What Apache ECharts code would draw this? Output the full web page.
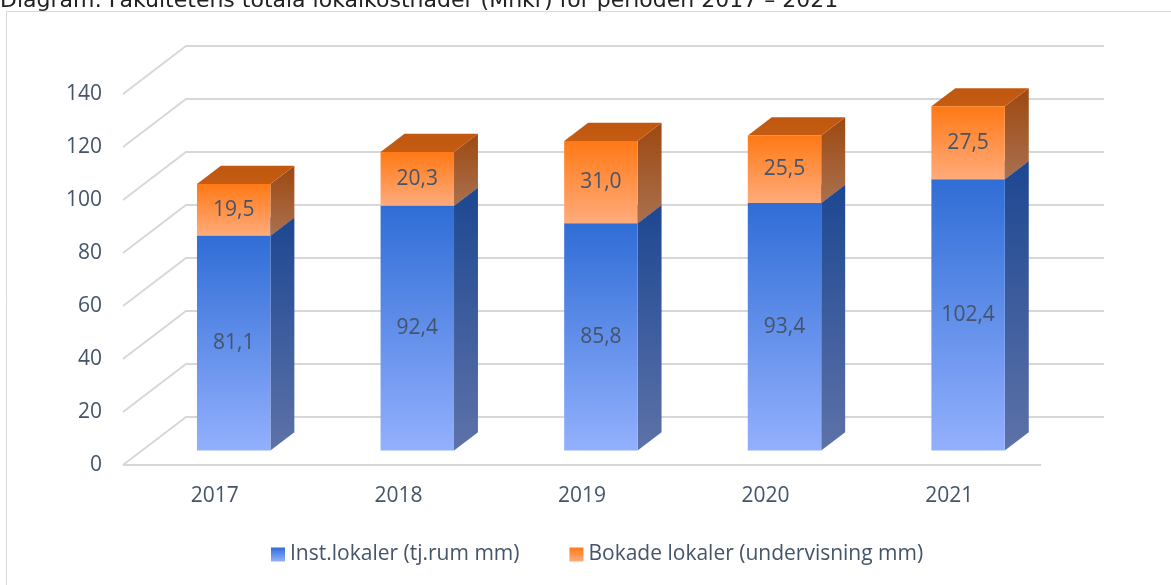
<!DOCTYPE html>
<html>
<head>
<meta charset="utf-8">
<script src="https://cdn.jsdelivr.net/npm/echarts@6/dist/echarts.min.js"></script>
<style>
  html, body { margin: 0; padding: 0; background: #ffffff; }
  #chart { width: 1171px; height: 585px; }
</style>
</head>
<body>
<div id="chart"></div>
<script>
// Fakultetens lokalkostnader (Mnkr), 2017–2021
const years = ['2017', '2018', '2019', '2020', '2021'];
const instLokaler = [81.1, 92.4, 85.8, 93.4, 102.4];
const bokadeLokaler = [19.5, 20.3, 31.0, 25.5, 27.5];
const yTicks = [0, 20, 40, 60, 80, 100, 120, 140];
const seriesNames = ['Inst.lokaler (tj.rum mm)', 'Bokade lokaler (undervisning mm)'];

// oblique projection of the chart box depth (pixels)
const DEPTH_X = 63, DEPTH_Y = -48;
const BAR_FRONT = 0.30;   // where the bar's front face sits inside the depth
const BAR_DEPTH = 0.38;   // how deep a bar is
const BAR_WIDTH = 0.40;   // share of the category band

const labelColor = '#44546a';
const gridColor = '#d6d6db';
const fontFamily = '"Open Sans", "DejaVu Sans", sans-serif';
const FS = 21;

function grad(top, bottom) {
  return { type: 'linear', x: 0, y: 0, x2: 0, y2: 1,
    colorStops: [{ offset: 0, color: top }, { offset: 1, color: bottom }] };
}

const palette = [
  { front: grad('#2f6dd6', '#93b0fd'), side: grad('#1d4792', '#5d72a8'), top: grad('#2a5fc0', '#3a70cf'), legend: grad('#2f6dd6', '#93b0fd') },
  { front: grad('#ff7915', '#ffab7c'), side: grad('#9e4810', '#a9714f'), top: grad('#c05710', '#c55c12'), legend: grad('#ff7915', '#ffab7c') }
];

function fmt(v) { return v.toFixed(1).replace('.', ','); }

// stacked data rows: [categoryIndex, base, value]
function stackRows(values, bases) {
  return values.map((v, i) => [i, bases ? bases[i] : 0, v]);
}
const blueRows = stackRows(instLokaler);
const orangeRows = stackRows(bokadeLokaler, instLokaler);

function gridRender(params, api) {
  const cs = params.coordSys;
  const v = api.value(1);
  const y = api.coord([0, v])[1];
  const x0 = cs.x, x1 = cs.x + cs.width;
  const style = { stroke: gridColor, lineWidth: 1.8, fill: null };
  const children = [{
    type: 'polyline',
    shape: { points: [[x0, y], [x0 + DEPTH_X, y + DEPTH_Y], [x1 + DEPTH_X, y + DEPTH_Y]] },
    style: style, silent: true
  }];
  if (v === 0) {
    children.push({ type: 'line', shape: { x1: x0, y1: y, x2: x1, y2: y }, style: style, silent: true });
  }
  return { type: 'group', children: children };
}

function barRender(colors) {
  return function (params, api) {
    const idx = api.value(0), base = api.value(1), val = api.value(2);
    const band = api.size([1, 0])[0];
    const cx = api.coord([idx, 0])[0];
    const w = band * BAR_WIDTH;
    const fx = DEPTH_X * BAR_FRONT, fy = DEPTH_Y * BAR_FRONT;
    const dx = DEPTH_X * BAR_DEPTH, dy = DEPTH_Y * BAR_DEPTH;
    const yb = api.coord([idx, base])[1] + fy;
    const yt = api.coord([idx, base + val])[1] + fy;
    const xl = cx - w / 2 + fx, xr = cx + w / 2 + fx;
    return {
      type: 'group',
      children: [
        { type: 'polygon', shape: { points: [[xr, yt], [xr + dx, yt + dy], [xr + dx, yb + dy], [xr, yb]] }, style: { fill: colors.side } },
        { type: 'polygon', shape: { points: [[xl, yt], [xl + dx, yt + dy], [xr + dx, yt + dy], [xr, yt]] }, style: { fill: colors.top } },
        { type: 'rect', shape: { x: xl, y: yt, width: w, height: yb - yt }, style: { fill: colors.front } },
        { type: 'text', x: (xl + xr) / 2, y: (yt + yb) / 2,
          style: { text: fmt(val), fill: labelColor, font: FS + 'px ' + fontFamily, align: 'center', verticalAlign: 'middle' } }
      ]
    };
  };
}

const chart = echarts.init(document.getElementById('chart'), null, { renderer: 'canvas' });
chart.setOption({
  animation: false,
  backgroundColor: '#ffffff',
  grid: { left: 123, right: 1171 - 1041, top: 94, bottom: 585 - 465, containLabel: false },
  xAxis: {
    type: 'category', data: years, boundaryGap: true,
    axisLine: { show: false }, axisTick: { show: false }, splitLine: { show: false },
    axisLabel: { color: labelColor, fontSize: FS, fontFamily: fontFamily, margin: 21 }
  },
  yAxis: {
    type: 'value', min: 0, max: 140, interval: 20,
    axisLine: { show: false }, axisTick: { show: false }, splitLine: { show: false },
    axisLabel: { color: labelColor, fontSize: FS, fontFamily: fontFamily, margin: 21 }
  },
  legend: {
    data: seriesNames, left: 266, top: 539, icon: 'rect', itemWidth: 14, itemHeight: 14, itemGap: 50,
    textStyle: { color: labelColor, fontSize: FS, fontFamily: fontFamily }
  },
  graphic: [
    { type: 'rect', shape: { x: 6.5, y: 11.5, width: 1300, height: 700 }, style: { fill: null, stroke: '#d9d9d9', lineWidth: 1 }, silent: true, z: -10 },
    { type: 'text', left: 0, top: -10,
      style: { text: 'Diagram: Fakultetens totala lokalkostnader (Mnkr) för perioden 2017 – 2021', fill: '#222222', font: '22px "DejaVu Sans", Verdana, sans-serif' } }
  ],
  series: [
    { type: 'custom', name: 'grid', data: yTicks.map(v => [0, v]), renderItem: gridRender, silent: true, z: 1 },
    { type: 'custom', name: seriesNames[0], data: blueRows, renderItem: barRender(palette[0]), itemStyle: { color: palette[0].legend }, z: 2 },
    { type: 'custom', name: seriesNames[1], data: orangeRows, renderItem: barRender(palette[1]), itemStyle: { color: palette[1].legend }, z: 3 }
  ]
});
</script>
</body>
</html>
